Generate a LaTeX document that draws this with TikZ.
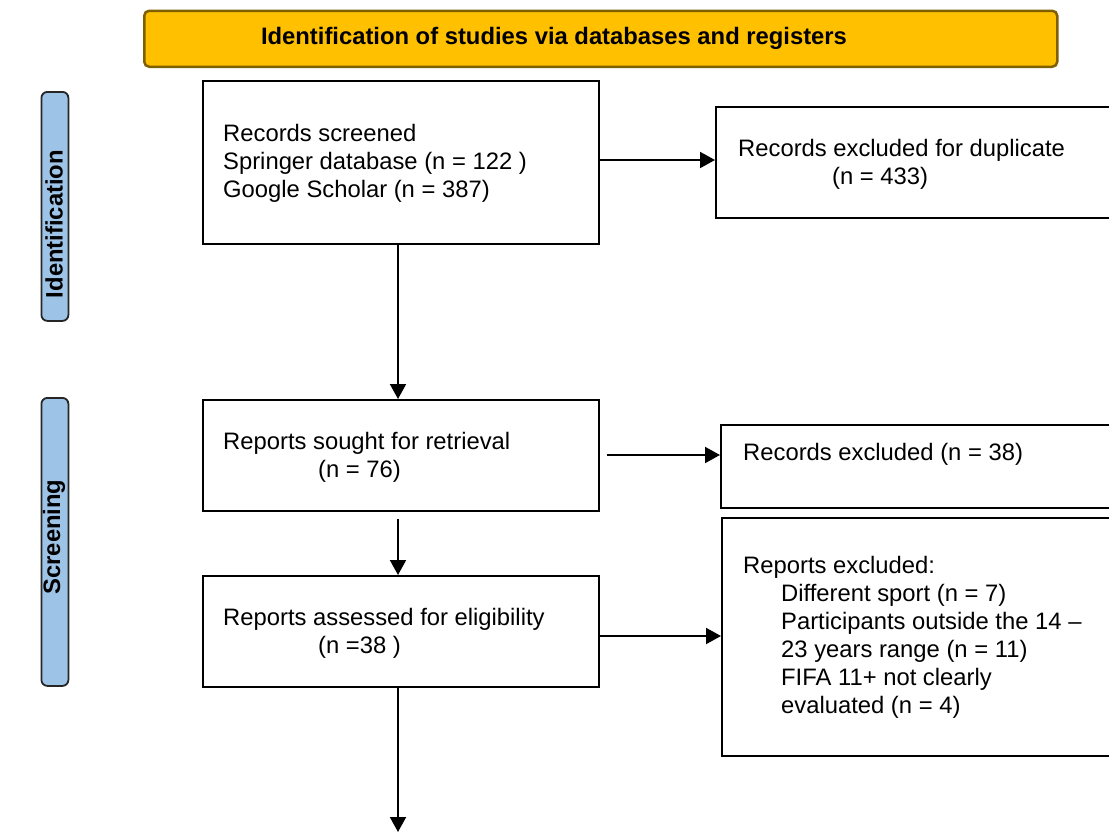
\documentclass[tikz,border=0pt]{standalone}
\usepackage{fontspec}
\setmainfont{Liberation Sans}
\usetikzlibrary{arrows.meta,calc}
\definecolor{hdrfill}{HTML}{FFC000}
\definecolor{hdrline}{HTML}{7F6000}
\definecolor{sidefill}{HTML}{9DC3E6}
\tikzset{
  txt/.style={font=\fontsize{23.8}{28}\selectfont, inner sep=2pt},
  flowbox/.style={draw=black, line width=1.8pt, fill=white, rectangle, anchor=north west, inner sep=0pt},
  sidebox/.style={draw=black!85, line width=1.8pt, fill=sidefill, rounded corners=6pt, rectangle, anchor=north west, inner sep=0pt},
  sidetxt/.style={font=\fontsize{23.8}{28}\selectfont\bfseries, rotate=90},
  arr/.style={line width=2pt, -{Triangle[length=15pt,width=16pt]}},
}
\begin{document}
\begin{tikzpicture}[x=1pt,y=-1pt]
\clip (0,0) rectangle (1109,833);
\fill[white] (0,0) rectangle (1109,833);
% header
\node[draw=hdrline, line width=2.5pt, fill=hdrfill, rounded corners=5pt, anchor=north west, inner sep=0pt,
      minimum width=913pt, minimum height=56pt] (hdr) at (143,9.5) {};
\node[txt, font=\fontsize{23.8}{28}\selectfont\bfseries] (hdrtxt) at (554,38) {Identification of studies via databases and registers};
% side boxes
\node[sidebox, minimum width=27pt, minimum height=229pt] (sid) at (40.5,91) {};
\node[sidetxt] (sidtxt) at (54,224) {Identification};
\node[sidebox, minimum width=27pt, minimum height=288pt] (sscr) at (40.5,397) {};
\node[sidetxt] (sscrtxt) at (54,537) {Screening};
% main boxes
\node[flowbox, minimum width=396pt, minimum height=163pt] (b1) at (202,80) {};
\node[txt, anchor=west, align=left] (b1t) at (221,163) {Records screened\\Springer database (n = 122 )\\Google Scholar (n = 387)};
\node[flowbox, minimum width=400pt, minimum height=111pt] (b2) at (715,106) {};
\node[txt, anchor=west, align=left] (b2t) at (736,164.5) {Records excluded for duplicate\\\hspace*{94pt}(n = 433)};
\node[flowbox, minimum width=396pt, minimum height=111pt] (b3) at (202,399) {};
\node[txt, anchor=west, align=left] (b3t) at (221,457) {Reports sought for retrieval\\\hspace*{95pt}(n = 76)};
\node[flowbox, minimum width=395pt, minimum height=83pt] (b4) at (720,424) {};
\node[txt, anchor=west, align=left] (b4t) at (741,454) {Records excluded (n = 38)};
\node[flowbox, minimum width=396pt, minimum height=111pt] (b5) at (202,575) {};
\node[txt, anchor=west, align=left] (b5t) at (221,633.5) {Reports assessed for eligibility\\\hspace*{95pt}(n =38 )};
\node[flowbox, minimum width=395pt, minimum height=238pt] (b6) at (721,517) {};
\node[txt, anchor=west, align=left] (b6t) at (741,637.5) {Reports excluded:\\
\hspace*{38pt}Different sport (n = 7)\\
\hspace*{38pt}Participants outside the 14 –\\
\hspace*{38pt}23 years range (n = 11)\\
\hspace*{38pt}FIFA 11+ not clearly\\
\hspace*{38pt}evaluated (n = 4)};
% connectors
\coordinate (b3r) at ($(b3.east |- 0,455)+(7,0)$);
\coordinate (b3b) at ($(b3.south -| 398,0)+(0,7)$);
\coordinate (end) at (398,832);
\draw[arr] (b1.east |- 0,160) -- (b2.west |- 0,160);
\draw[arr] (b1.south -| 398,0) -- (b3.north -| 398,0);
\draw[arr] (b3r) -- (b4.west |- 0,455);
\draw[arr] (b3b) -- (b5.north -| 398,0);
\draw[arr] (b5.east |- 0,636) -- (b6.west |- 0,636);
\draw[arr] (b5.south -| 398,0) -- (end);
\end{tikzpicture}
\end{document}
